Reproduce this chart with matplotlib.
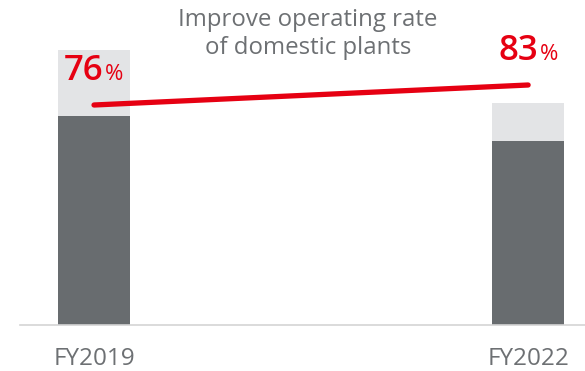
import matplotlib.pyplot as plt

years = ['FY2019', 'FY2022']
capacity = [100.0, 80.7]     # light bar (total)
production = [76.0, 66.9]    # dark bar
rates = [76, 83]             # operating rate, %

dark = '#686c6f'
light = '#e3e4e6'
red = '#e60012'
grey_txt = '#6d7073'

plt.rcParams['font.family'] = ['Open Sans', 'DejaVu Sans']

fig = plt.figure(figsize=(5.85, 3.71), dpi=100)
ax = fig.add_axes([20 / 585, 46 / 371, 565 / 585, 325 / 371])
x = list(range(len(years)))
w = 0.166

ax.bar(x, capacity, width=w, color=light, zorder=1)
ax.bar(x, production, width=w, color=dark, zorder=2)
ax.set_xlim(-0.1705, 1.131)
ax.set_ylim(0, 118.2)

for s in ['top', 'right', 'left']:
    ax.spines[s].set_visible(False)
ax.spines['bottom'].set_color('#d4d4d4')
ax.spines['bottom'].set_linewidth(1.2)
ax.set_yticks([])
ax.set_xticks(x)
ax.set_xticklabels(years, fontsize=17.5, color=grey_txt)
ax.tick_params(axis='x', length=0, pad=16)

# operating-rate line on its own scale
ax2 = ax.twinx()
ax2.set_ylim(-1, 112.75)
ax2.axis('off')
ax2.plot(x, rates, color=red, lw=3.8, solid_capstyle='round', zorder=5)

offsets = [(9, 25), (10, 25)]
for xi, r, (dx, dy) in zip(x, rates, offsets):
    ax2.annotate(str(r), (xi, r), xytext=(dx, dy), textcoords='offset pixels',
                 ha='right', va='baseline', fontsize=25, fontweight='semibold', color=red)
    ax2.annotate('%', (xi, r), xytext=(dx + 2, dy), textcoords='offset pixels',
                 ha='left', va='baseline', fontsize=16, color=red)

fig.text(308 / 585, 1 - 34 / 371, 'Improve operating rate\nof domestic plants',
         ha='center', va='center', fontsize=17.3, color=grey_txt, linespacing=1.2)

fig.savefig('out.png', dpi=100)
